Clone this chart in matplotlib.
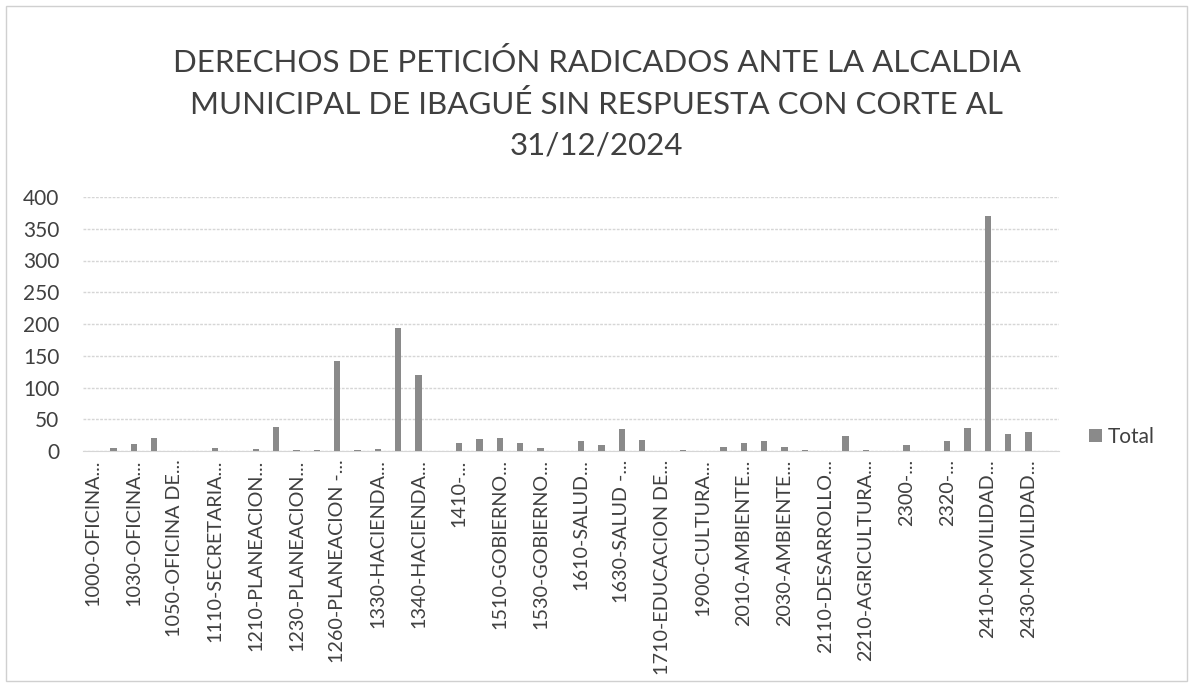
import matplotlib
matplotlib.use("Agg")
import matplotlib.pyplot as plt
import numpy as np

plt.rcParams['font.family'] = ['Lato', 'DejaVu Sans']

title = "DERECHOS DE PETICIÓN RADICADOS ANTE LA ALCALDIA\nMUNICIPAL DE IBAGUÉ SIN RESPUESTA CON CORTE AL\n31/12/2024"

# values for each of the 48 dependencias (in axis order)
values = [0, 4, 11, 20, 0, 0, 5, 0, 3, 38, 2, 2, 142, 2, 3, 194, 119, 0,
          12, 19, 21, 13, 5, 0, 16, 10, 35, 18, 0, 2, 0, 6, 12, 15, 6, 2,
          0, 24, 1, 0, 10, 0, 15, 37, 370, 26, 30, 0]

# visible (every second) category labels
tick_labels = ["1000-OFICINA...", "1030-OFICINA...", "1050-OFICINA DE...",
               "1110-SECRETARIA...", "1210-PLANEACION...", "1230-PLANEACION...",
               "1260-PLANEACION -...", "1330-HACIENDA...", "1340-HACIENDA...",
               "1410-...", "1510-GOBIERNO...", "1530-GOBIERNO...",
               "1610-SALUD...", "1630-SALUD -...", "1710-EDUCACION DE...",
               "1900-CULTURA...", "2010-AMBIENTE...", "2030-AMBIENTE...",
               "2110-DESARROLLO...", "2210-AGRICULTURA...", "2300-...",
               "2320-...", "2410-MOVILIDAD...", "2430-MOVILIDAD..."]

yticks = [0, 50, 100, 150, 200, 250, 300, 350, 400]
series_name = "Total"

W, H = 1193, 687
fig = plt.figure(figsize=(W / 100, H / 100), dpi=100)
fig.patch.set_facecolor("white")

# chart area border
fig.add_artist(plt.Rectangle((6 / W, 6 / H), 1 - 12 / W, 1 - 12 / H,
                             transform=fig.transFigure, fill=False,
                             edgecolor="#d0d0d0", lw=1))

left, right, top, bottom = 83, 1059, 197, 451
ax = fig.add_axes([left / W, 1 - bottom / H, (right - left) / W, (bottom - top) / H])

x = np.arange(len(values))
ax.bar(x, values, width=0.32, color="#8a8a8a", label=series_name, zorder=3)

ax.set_xlim(-0.5, len(values) - 0.5)
ax.set_ylim(0, 400)
ax.set_yticks(yticks)
ax.set_yticklabels([str(v) for v in yticks], fontsize=15, color="#404040")
ax.set_xticks(x[::2])
ax.set_xticklabels(tick_labels, rotation=90, fontsize=14.2, color="#404040")
ax.tick_params(axis="both", length=0)
ax.tick_params(axis="y", pad=17)
ax.tick_params(axis="x", pad=6)

ax.grid(axis="y", color="#d6d6d6", lw=1, ls=(0, (2, 1)), zorder=0)
for s in ["top", "right", "left"]:
    ax.spines[s].set_visible(False)
ax.spines["bottom"].set_color("#d6d6d6")

fig.text(0.5, 1 - 104 / H, title, ha="center", va="center",
         fontsize=22.5, color="#404040", linespacing=1.55)

leg = ax.legend(loc="center left", bbox_to_anchor=(1.012, 0.055), frameon=False,
                fontsize=15, handlelength=0.6, handleheight=0.6, handletextpad=0.3)
for t in leg.get_texts():
    t.set_color("#404040")

fig.savefig("out.png", dpi=100)
